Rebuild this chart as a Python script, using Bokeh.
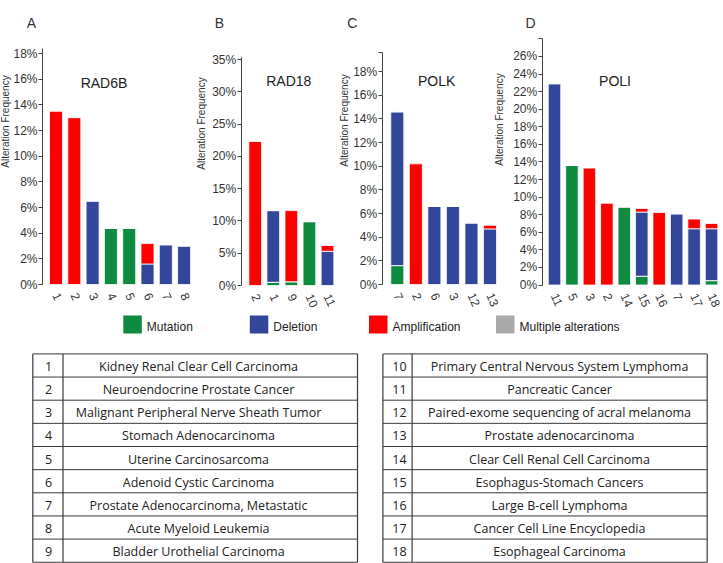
import math
from bokeh.plotting import figure
from bokeh.models import Range1d, FixedTicker, LinearAxis, ColumnDataSource, PrintfTickFormatter
from bokeh.core.properties import value
from bokeh.embed import file_html
from bokeh.resources import INLINE

# ---------------- data ----------------
series_names = ["Mutation", "Deletion", "Amplification", "Multiple alterations"]
series_colors = ["#0E8A41", "#33479A", "#FE0000", "#A9A9A9"]

rad6b_cats = ["1", "2", "3", "4", "5", "6", "7", "8"]
rad6b_mut = [0, 0, 0, 4.4, 4.4, 0, 0, 0]
rad6b_del = [0, 0, 6.5, 0, 0, 1.6, 3.1, 3.0]
rad6b_amp = [13.5, 13.0, 0, 0, 0, 1.6, 0, 0]

rad18_cats = ["2", "1", "9", "10", "11"]
rad18_mut = [0, 0.5, 0.6, 9.9, 0]
rad18_del = [0, 11.1, 0, 0, 5.3]
rad18_amp = [22.3, 0, 11.0, 0, 0.9]

polk_cats = ["7", "2", "6", "3", "12", "13"]
polk_mut = [1.6, 0, 0, 0, 0, 0]
polk_del = [13.0, 0, 6.6, 6.6, 5.2, 4.7]
polk_amp = [0, 10.2, 0, 0, 0, 0.3]

poli_cats = ["11", "5", "3", "2", "14", "15", "16", "7", "17", "18"]
poli_mut = [0, 13.6, 0, 0, 8.9, 1.0, 0, 0, 0, 0.5]
poli_del = [22.9, 0, 0, 0, 0, 7.3, 0, 8.1, 6.4, 5.9]
poli_amp = [0, 0, 13.3, 9.3, 0, 0.4, 8.25, 0, 1.1, 0.6]

rad6b_ticks = [0, 2, 4, 6, 8, 10, 12, 14, 16, 18]
rad18_ticks = [0, 5, 10, 15, 20, 25, 30, 35]
polk_ticks = [0, 2, 4, 6, 8, 10, 12, 14, 16, 18]
poli_ticks = [0, 2, 4, 6, 8, 10, 12, 14, 16, 18, 20, 22, 24, 26]

left_ids = ["1", "2", "3", "4", "5", "6", "7", "8", "9"]
left_names = ["Kidney Renal Clear Cell Carcinoma", "Neuroendocrine Prostate Cancer",
              "Malignant Peripheral Nerve Sheath Tumor", "Stomach Adenocarcinoma",
              "Uterine Carcinosarcoma", "Adenoid Cystic Carcinoma",
              "Prostate Adenocarcinoma, Metastatic", "Acute Myeloid Leukemia",
              "Bladder Urothelial Carcinoma"]
right_ids = ["10", "11", "12", "13", "14", "15", "16", "17", "18"]
right_names = ["Primary Central Nervous System Lymphoma", "Pancreatic Cancer",
               "Paired-exome sequencing of acral melanoma", "Prostate adenocarcinoma",
               "Clear Cell Renal Cell Carcinoma", "Esophagus-Stomach Cancers",
               "Large B-cell Lymphoma", "Cancer Cell Line Encyclopedia",
               "Esophageal Carcinoma"]

# ---------------- layout (page pixels, origin top-left) ----------------
W, H = 723, 563
FONT = "Liberation Sans"
TXT = "#333333"


def Y(py):
    return H - py


p = figure(width=W, height=H, x_range=Range1d(0, W), y_range=Range1d(0, H),
           output_backend="svg", toolbar_location=None, min_border=0,
           x_axis_location=None, y_axis_location=None)
p.grid.visible = False
p.outline_line_color = None
p.background_fill_color = "white"
p.border_fill_color = "white"

panels = [
    # key, cats, mut, del, amp, ticks, minor, axis_x, base_y, px_per_pct, axis_top_y,
    # first_center, spacing, bar_w, letter, letter_xy, title, title_xy, ylabel_xy
    ("A", rad6b_cats, rad6b_mut, rad6b_del, rad6b_amp, rad6b_ticks, [], 42, 284, 12.83, 48,
     55.5, 18.3, 13.0, "A", (31, 22), "RAD6B", (103.5, 82), (5, 121)),
    ("B", rad18_cats, rad18_mut, rad18_del, rad18_amp, rad18_ticks, [], 240.7, 285, 6.457, 57,
     254.7, 18.07, 12.7, "B", (219, 22), "RAD18", (288.3, 80.5), (201, 123)),
    ("C", polk_cats, polk_mut, polk_del, polk_amp, polk_ticks, [19.6], 381.7, 284, 11.83, 52,
     396.8, 18.54, 13.0, "C", (351.7, 22), "POLK", (436.2, 80.5), (344, 120)),
    ("D", poli_cats, poli_mut, poli_del, poli_amp, poli_ticks, [28.0], 541.7, 284.5, 8.79, 38,
     554.0, 17.45, 12.5, "D", (530, 22), "POLI", (614.5, 80.5), (498.7, 119)),
]

letters_x, letters_y, letters_t = [], [], []
titles_x, titles_y, titles_t = [], [], []
ylab_x, ylab_y = [], []

for (key, cats, mut, dele, amp, ticks, minor, ax_x, base, k, top_y,
     c0, s, bw, letter, lxy, title, txy, yxy) in panels:
    n = len(cats)
    xr, yr = "x" + key, "y" + key
    p.extra_x_ranges[xr] = Range1d((0 - c0) / s, (W - c0) / s)
    p.extra_y_ranges[yr] = Range1d(-(H - base) / k, base / k)
    src = ColumnDataSource(dict(x=list(range(n)), mut=mut, mult=[0] * n, dele=dele, amp=amp))
    p.vbar_stack(["mut", "mult", "dele", "amp"], x="x", width=bw / s,
                 color=[series_colors[0], series_colors[3], series_colors[1], series_colors[2]],
                 line_color="white", line_width=0.8, source=src,
                 x_range_name=xr, y_range_name=yr)
    ytop = (base - top_y) / k
    ya = LinearAxis(x_range_name=xr, y_range_name=yr, fixed_location=(ax_x - c0) / s,
                    bounds=(0, ytop), ticker=FixedTicker(ticks=ticks, minor_ticks=minor),
                    formatter=PrintfTickFormatter(format="%d%%"))
    ya.major_label_text_font = FONT
    ya.major_label_text_font_size = "12px"
    ya.major_label_text_color = TXT
    ya.axis_line_color = "#444444"
    ya.major_tick_line_color = "#444444"
    ya.minor_tick_line_color = "#444444"
    ya.major_tick_out = 4
    ya.major_tick_in = 0
    ya.minor_tick_out = 4
    ya.minor_tick_in = 0
    ya.major_label_standoff = 1
    p.add_layout(ya, "left")
    xa = LinearAxis(x_range_name=xr, y_range_name=yr, fixed_location=0,
                    bounds=(-0.5, n - 0.5), ticker=FixedTicker(ticks=list(range(n))))
    xa.major_label_overrides = {i: c for i, c in enumerate(cats)}
    xa.major_label_orientation = -1.15
    xa.axis_line_color = None
    xa.major_tick_line_color = None
    xa.minor_tick_line_color = None
    xa.major_label_standoff = 3
    xa.major_label_text_font = FONT
    xa.major_label_text_font_size = "12px"
    xa.major_label_text_color = TXT
    p.add_layout(xa, "below")
    letters_x.append(lxy[0]); letters_y.append(Y(lxy[1])); letters_t.append(letter)
    titles_x.append(txy[0]); titles_y.append(Y(txy[1])); titles_t.append(title)
    ylab_x.append(yxy[0]); ylab_y.append(Y(yxy[1]))

p.text(x=letters_x, y=letters_y, text=letters_t, text_font=value(FONT), text_font_size="14px",
       text_color=TXT, text_align="center", text_baseline="middle")
p.text(x=titles_x, y=titles_y, text=titles_t, text_font=value(FONT), text_font_size="14px",
       text_color="#222222", text_align="center", text_baseline="middle")
p.text(x=ylab_x, y=ylab_y, text=["Alteration Frequency"] * len(ylab_x), angle=math.pi / 2,
       text_font=value(FONT), text_font_size="10px", text_color=TXT,
       text_align="center", text_baseline="middle")

# ---------------- legend ----------------
leg_sq_x = [122.8, 249.3, 368.5, 495.5]
leg_sq_w, leg_sq_h = 18.5, 18
leg_cy = 324
p.rect(x=[v + leg_sq_w / 2 for v in leg_sq_x], y=[Y(leg_cy)] * 4, width=leg_sq_w,
       height=leg_sq_h, color=series_colors, line_color=None)
p.text(x=[v + leg_sq_w + 5 for v in leg_sq_x], y=[Y(leg_cy + 2)] * 4, text=series_names,
       text_font=value(FONT), text_font_size="12px", text_color="#222222",
       text_baseline="middle", text_align="left")

# ---------------- tables ----------------
TB_TOP = 353.4
ROW_H = 23.15
tables = [
    (32.3, 62.5, 357.0, 48, 198, left_ids, left_names),
    (382.4, 411.6, 706.7, 399, 559, right_ids, right_names),
]
for (tx0, tdiv, tx1, idx, namex, ids, names) in tables:
    nrow = len(ids)
    ys = [Y(TB_TOP + kk * ROW_H) for kk in range(nrow + 1)]
    p.segment(x0=[tx0] * len(ys), y0=ys, x1=[tx1] * len(ys), y1=ys,
              line_color="#3a3a3a", line_width=1)
    yt, yb = Y(TB_TOP), Y(TB_TOP + nrow * ROW_H)
    p.segment(x0=[tx0, tdiv, tx1], y0=[yt] * 3, x1=[tx0, tdiv, tx1], y1=[yb] * 3,
              line_color="#3a3a3a", line_width=1.2)
    yc = [Y(TB_TOP + (kk + 0.5) * ROW_H + 1) for kk in range(nrow)]
    p.text(x=[idx] * nrow, y=yc, text=ids, text_font=value("Open Sans"),
           text_font_size="12.5px", text_color="#222222", text_align="center",
           text_baseline="middle")
    p.text(x=[namex] * nrow, y=yc, text=names, text_font=value("Open Sans"),
           text_font_size="12.5px", text_color="#222222", text_align="center",
           text_baseline="middle")

open("out.html", "w").write(file_html(p, INLINE))
